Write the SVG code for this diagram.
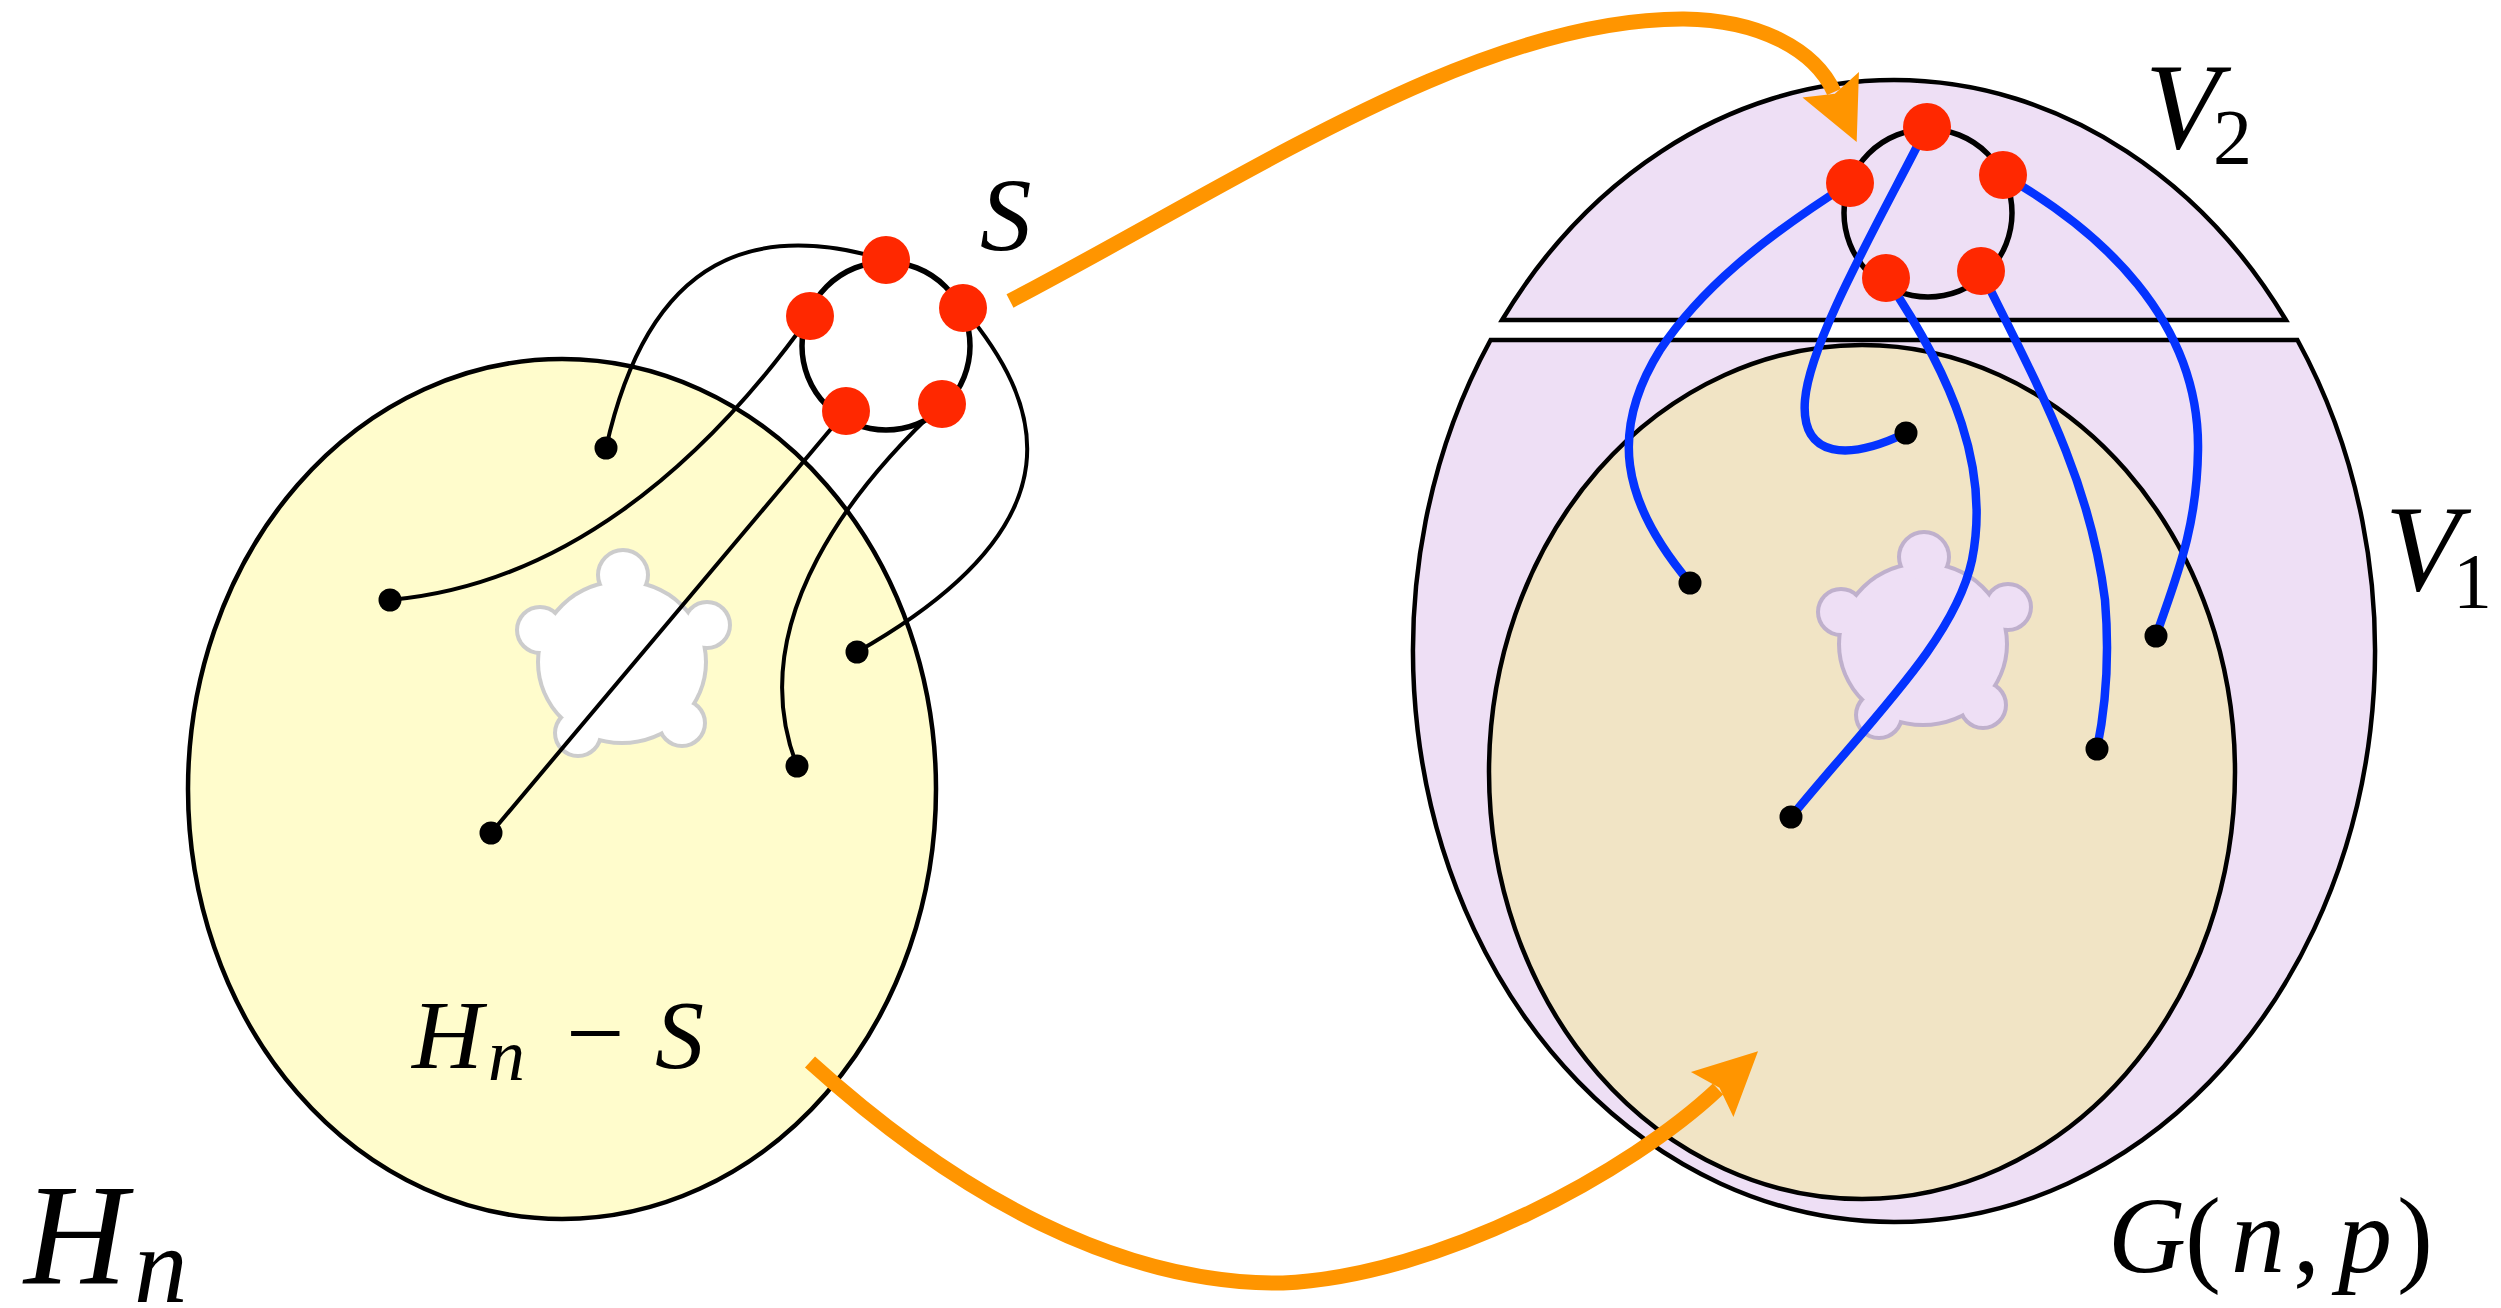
<svg xmlns="http://www.w3.org/2000/svg" xmlns:xlink="http://www.w3.org/1999/xlink" width="2501" height="1308" viewBox="0 0 2501 1308">
<style>
.outline{stroke:#000;stroke-width:4.5;stroke-linejoin:miter}
.ring{fill:none;stroke:#000;stroke-width:5.5}
.thin{fill:none;stroke:#000;stroke-width:4;stroke-linecap:round}
.blue{fill:none;stroke:#0433FF;stroke-width:8.5;stroke-linecap:round}
.orange{fill:none;stroke:#FF9500;stroke-width:15;stroke-linecap:butt}
.red{fill:#FF2800}
.vtx{fill:#000}
.m{font-family:"Liberation Serif","Times New Roman",serif;font-style:italic;fill:#000}
.r{font-family:"Liberation Serif","Times New Roman",serif;font-style:normal;fill:#000}
</style>
<defs>
<g id="blob-shape">
<ellipse cx="0" cy="0" rx="82" ry="79"/>
<circle cx="1" cy="-87" r="23"/>
<circle cx="-82" cy="-32" r="21"/>
<circle cx="85" cy="-37" r="21"/>
<circle cx="-44" cy="71" r="21"/>
<circle cx="60" cy="61" r="21"/>
</g>
<marker id="ah" markerUnits="userSpaceOnUse" markerWidth="80" markerHeight="80" viewBox="-5 -40 80 80" refX="8" refY="0" orient="auto">
<polygon points="0,-31 63,0 0,31 10,0" fill="#FF9500"/>
</marker>
</defs>

<g id="node-Hn">
<ellipse cx="562" cy="789" rx="374" ry="430" fill="#FFFCCC" class="outline" stroke-width="4"/>
<use xlink:href="#blob-shape" href="#blob-shape" transform="translate(622,662)" fill="none" stroke="#CCCCCC" stroke-width="8"/>
<use xlink:href="#blob-shape" href="#blob-shape" transform="translate(622,662)" fill="#FFFFFF" stroke="none"/>
</g>

<g id="node-Gnp">
<path id="node-V1" d="M1490.6,340 A481,571 0 1 0 2297.4,340 Z" fill="#EEDFF5" class="outline"/>
<path id="node-V2" d="M1502.1,320 A481,571 0 0 1 2285.9,320 Z" fill="#EEDFF5" class="outline"/>
<ellipse cx="1862" cy="772" rx="373" ry="427" fill="#F1E4C5" class="outline" stroke-width="4"/>
<use xlink:href="#blob-shape" href="#blob-shape" transform="translate(1923,644)" fill="none" stroke="#BFB0CC" stroke-width="8"/>
<use xlink:href="#blob-shape" href="#blob-shape" transform="translate(1923,644)" fill="#EEDFF5" stroke="none"/>
</g>

<g id="ring-S-left"><circle cx="886" cy="346" r="84" class="ring"/></g>
<g id="ring-S-right"><circle cx="1928" cy="213" r="84" class="ring"/></g>

<g id="connectors">
<path class="thin" d="M886,260 C760,222 650,250 606,448"/>
<path class="thin" d="M810,316 C700,470 560,585 390,600"/>
<path class="thin" d="M846,411 L491,833"/>
<path class="thin" d="M942,404 C860,480 740,620 797,766"/>
<path class="thin" d="M963,308 C1040,400 1090,520 857,652"/>
<path class="blue" d="M1850,183 C1760,240 1700,290 1660,350 C1610,430 1620,500 1690,583"/>
<path class="blue" d="M1927,127 C1880,220 1810,340 1805,400 C1800,460 1850,460 1906,433"/>
<path class="blue" d="M1886,278 C1955,380 1990,470 1972,560 C1955,640 1870,720 1791,817"/>
<path class="blue" d="M1981,271 C2040,390 2090,480 2105,600 C2110,660 2105,710 2097,749"/>
<path class="blue" d="M2003,175 C2100,230 2200,320 2198,450 C2197,530 2175,580 2156,636"/>
<path class="orange" marker-end="url(#ah)" d="M1010,301 C1250,175 1480,18 1684,19 C1760,20 1815,50 1834,92"/>
<path class="orange" marker-end="url(#ah)" d="M810,1062 C958,1196 1120,1285 1283,1283 C1440,1276 1631,1171 1718,1089"/>
</g>

<g id="node-S-left">
<circle class="red" cx="886" cy="260" r="24"/>
<circle class="red" cx="963" cy="308" r="24"/>
<circle class="red" cx="810" cy="316" r="24"/>
<circle class="red" cx="846" cy="411" r="24"/>
<circle class="red" cx="942" cy="404" r="24"/>
</g>
<g id="node-S-right">
<circle class="red" cx="1927" cy="127" r="24"/>
<circle class="red" cx="1850" cy="183" r="24"/>
<circle class="red" cx="2003" cy="175" r="24"/>
<circle class="red" cx="1886" cy="278" r="24"/>
<circle class="red" cx="1981" cy="271" r="24"/>
</g>
<g id="node-left-vertices">
<circle class="vtx" cx="606" cy="448" r="11.5"/>
<circle class="vtx" cx="390" cy="600" r="11.5"/>
<circle class="vtx" cx="491" cy="833" r="11.5"/>
<circle class="vtx" cx="797" cy="766" r="11.5"/>
<circle class="vtx" cx="857" cy="652" r="11.5"/>
</g>
<g id="node-right-vertices">
<circle class="vtx" cx="1906" cy="433" r="11.5"/>
<circle class="vtx" cx="1690" cy="583" r="11.5"/>
<circle class="vtx" cx="2156" cy="636" r="11.5"/>
<circle class="vtx" cx="2097" cy="749" r="11.5"/>
<circle class="vtx" cx="1791" cy="817" r="11.5"/>
</g>

<g id="labels">
<text class="m" x="980" y="250" font-size="103">S</text>
<text class="m" x="412" y="1068" font-size="98">H</text>
<text class="m" x="488" y="1080" font-size="74">n</text>
<text class="r" x="566" y="1068" font-size="104">−</text>
<text class="m" x="655" y="1068" font-size="98">S</text>
<text class="m" x="24" y="1283" font-size="143">H</text>
<text class="m" x="134" y="1302" font-size="107">n</text>
<text class="m" x="2145" y="148" font-size="122">V</text>
<text class="r" x="2213" y="163" font-size="78">2</text>
<text class="m" x="2385" y="590" font-size="122">V</text>
<text class="r" x="2453" y="607" font-size="78">1</text>
<text class="m" x="2108" y="1272" font-size="108">G</text>
<text class="r" x="2185" y="1272" font-size="108">(</text>
<text class="m" x="2231" y="1272" font-size="108">n</text>
<text class="r" x="2293" y="1272" font-size="108">,</text>
<text class="m" x="2338" y="1272" font-size="108">p</text>
<text class="r" x="2397" y="1272" font-size="108">)</text>
</g>
</svg>
